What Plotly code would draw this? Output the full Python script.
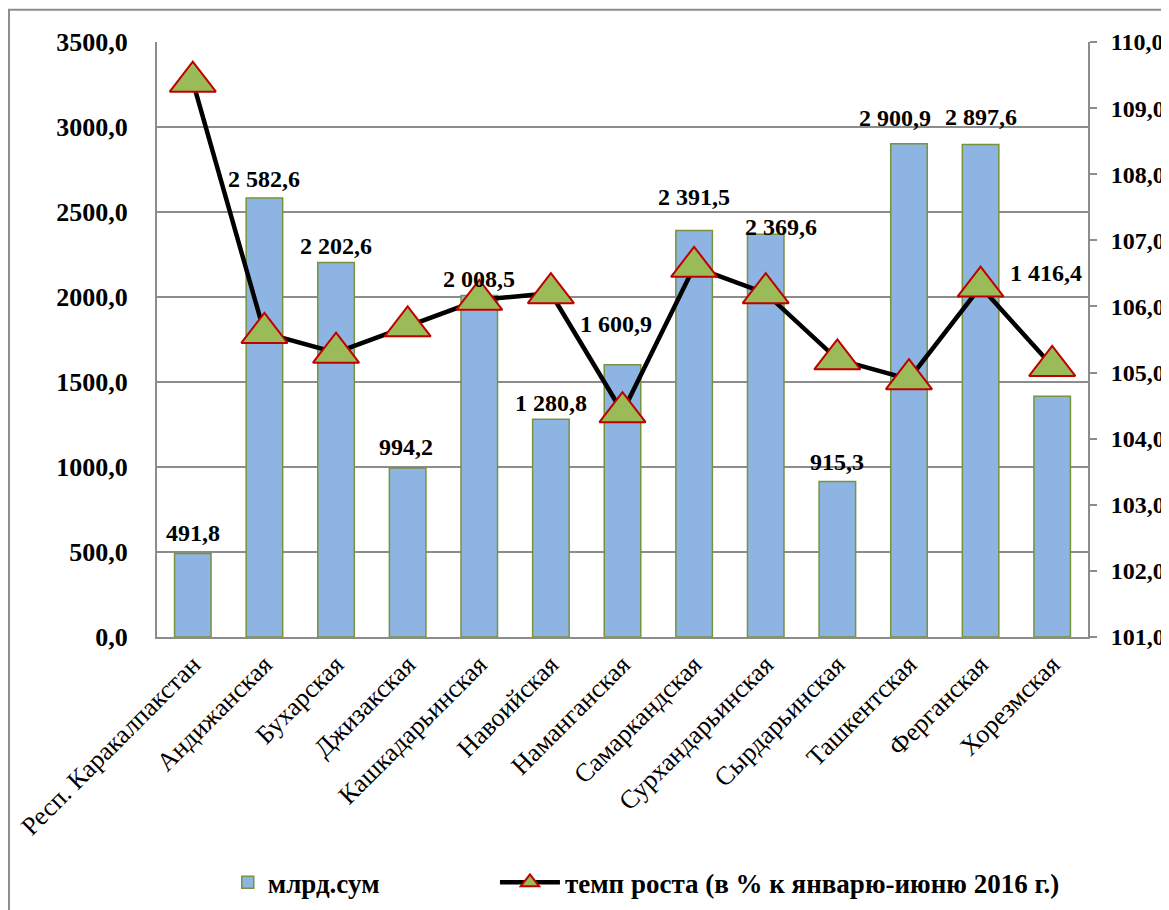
import plotly.graph_objects as go

categories = ["Респ. Каракалпакстан", "Андижанская", "Бухарская", "Джизакская",
              "Кашкадарьинская", "Навоийская", "Наманганская", "Самаркандская",
              "Сурхандарьинская", "Сырдарьинская", "Ташкентская", "Ферганская", "Хорезмская"]
volume = [491.8, 2582.6, 2202.6, 994.2, 2008.5, 1280.8, 1600.9, 2391.5,
          2369.6, 915.3, 2900.9, 2897.6, 1416.4]
growth = [109.4, 105.6, 105.3, 105.7, 106.1, 106.2, 104.4, 106.6,
          106.2, 105.2, 104.9, 106.3, 105.1]

left_ticks = [0, 500, 1000, 1500, 2000, 2500, 3000, 3500]
left_ticktext = ["0,0", "500,0", "1000,0", "1500,0", "2000,0", "2500,0", "3000,0", "3500,0"]
right_ticks = [101, 102, 103, 104, 105, 106, 107, 108, 109, 110]
right_ticktext = ["101,0", "102,0", "103,0", "104,0", "105,0", "106,0", "107,0", "108,0", "109,0", "110,0"]

# label placement offsets (px) relative to top of bar
label_dy = [20, 19, 17, 21, 17, 16, 41, 33, 7, 19, 26, 27, 123]
label_dx = [0, 0, 0, -2, 0, 0, -7, 0, 15, 0, -14, 0, -6]

FONT = "Liberation Serif, Times New Roman, serif"
GRID = "#8c8c8c"


def fmt(v):
    s = f"{v:,.1f}"
    return s.replace(",", " ").replace(".", ",")


fig = go.Figure()
fig.add_trace(go.Bar(
    x=categories, y=volume, name="млрд.сум", legend="legend",
    marker=dict(color="#8DB4E2", line=dict(color="#77933C", width=1.5)),
))
fig.add_trace(go.Scatter(
    x=categories, y=growth, yaxis="y2", mode="lines+markers", legend="legend2",
    name="темп роста (в % к январю-июню 2016 г.)",
    line=dict(color="black", width=4.5),
    marker=dict(symbol="triangle-up", size=40, color="#9BBB59",
                line=dict(color="#C00000", width=2)),
))

annotations = []
for c, v, dy, dx in zip(categories, volume, label_dy, label_dx):
    annotations.append(dict(
        x=c, y=v, xref="x", yref="y", text=f"<b>{fmt(v)}</b>", showarrow=False,
        yanchor="middle", xanchor="center", yshift=dy, xshift=dx,
        font=dict(family=FONT, size=24, color="black"),
    ))

legend_font = dict(family=FONT, size=27, color="black", weight="bold")

fig.update_layout(
    width=1161, height=902,
    margin=dict(l=149, r=81, t=34, b=273, autoexpand=False),
    paper_bgcolor="white", plot_bgcolor="white",
    font=dict(family=FONT, color="black"),
    bargap=0.49,
    showlegend=True,
    legend=dict(orientation="h", x=0.076, xanchor="left", y=-0.413, yanchor="middle",
                font=legend_font, itemwidth=30, bgcolor="rgba(0,0,0,0)"),
    legend2=dict(orientation="h", x=0.363, xanchor="left", y=-0.413, yanchor="middle",
                 font=legend_font, itemwidth=60, bgcolor="rgba(0,0,0,0)"),
    xaxis=dict(
        range=[-0.5, 12.5],
        showline=True, linecolor=GRID, linewidth=2, ticks="", automargin=False,
        tickangle=-45, tickfont=dict(family=FONT, size=26, color="black"),
        showgrid=False,
    ),
    yaxis=dict(
        range=[0, 3500], tickvals=left_ticks, ticktext=left_ticktext,
        showgrid=True, gridcolor=GRID, gridwidth=1.5, automargin=False,
        showline=True, linecolor=GRID, linewidth=2, ticks="",
        ticklabelstandoff=22, zeroline=False,
        tickfont=dict(family=FONT, size=26, color="black", weight="bold"),
    ),
    yaxis2=dict(
        range=[101, 110], tickvals=right_ticks, ticktext=right_ticktext,
        overlaying="y", side="right", showgrid=False, zeroline=False,
        showline=True, linecolor=GRID, linewidth=2, automargin=False,
        ticks="outside", ticklen=7, tickcolor=GRID, tickwidth=1.5,
        ticklabelstandoff=9,
        tickfont=dict(family=FONT, size=24, color="black", weight="bold"),
    ),
    annotations=annotations,
    shapes=[dict(type="rect", xref="paper", yref="paper",
                 x0=-0.159, x1=1.2, y0=-0.7, y1=1.054,
                 line=dict(color="#8c8c8c", width=2))],
)

fig.write_html("out.html")
